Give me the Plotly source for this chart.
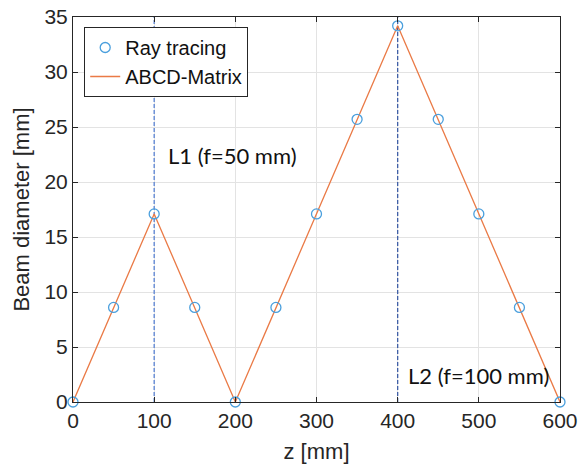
import plotly.graph_objects as go

# Beam diameter along the optical axis
z_ray = [0, 50, 100, 150, 200, 250, 300, 350, 400, 450, 500, 550, 600]
d_ray = [0, 8.6, 17.1, 8.6, 0, 8.6, 17.1, 25.7, 34.2, 25.7, 17.1, 8.6, 0]

z_abcd = [0, 100, 200, 400, 600]
d_abcd = [0, 17.1, 0, 34.2, 0]

lens_z = [100, 400]
lens_colors = ["#5A83D4", "#3E5EA6"]
lens_labels = ["L1 (f=50 mm)", "L2 (f=100 mm)"]
lens_label_pos = [(115, 22.45), (410, 2.45)]

x_ticks = [0, 100, 200, 300, 400, 500, 600]
y_ticks = [0, 5, 10, 15, 20, 25, 30, 35]

fig = go.Figure()

# lens positions as dashed vertical lines (drawn above the grid)
for z, col in zip(lens_z, lens_colors):
    fig.add_trace(go.Scatter(
        x=[z, z], y=[0, 35], mode="lines", showlegend=False, hoverinfo="skip",
        line=dict(color=col, width=1.3, dash="4px,2px"),
    ))

fig.add_trace(go.Scatter(
    x=z_abcd, y=d_abcd, mode="lines", name="ABCD-Matrix",
    line=dict(color="#EA7A46", width=1.3),
))
fig.add_trace(go.Scatter(
    x=z_ray, y=d_ray, mode="markers", name="Ray tracing", cliponaxis=False,
    marker=dict(symbol="circle-open", size=10, color="#4A9FDD",
                line=dict(width=1.3, color="#4A9FDD")),
))

for txt, (lx, ly) in zip(lens_labels, lens_label_pos):
    fig.add_annotation(x=lx, y=ly, text=txt, showarrow=False,
                       xanchor="left", yanchor="middle",
                       font=dict(family="Lato", size=22, color="#111111"))

axis_common = dict(
    showline=True, linecolor="#262626", linewidth=1, mirror="ticks",
    ticks="inside", ticklen=5, tickcolor="#262626",
    showgrid=True, gridcolor="#E3E3E3", gridwidth=1, zeroline=False,
    automargin=False,
    tickfont=dict(family="Liberation Sans", size=21, color="#262626"),
)

fig.update_layout(
    width=579, height=469,
    margin=dict(l=73, r=19, t=17, b=67),
    paper_bgcolor="white", plot_bgcolor="white",
    xaxis=dict(range=[0, 600], tickvals=x_ticks,
               title=dict(text="z [mm]", standoff=12,
                          font=dict(family="Liberation Sans", size=22, color="#262626")),
               **axis_common),
    yaxis=dict(range=[0, 35], tickvals=y_ticks,
               title=dict(text="Beam diameter [mm]", standoff=8,
                          font=dict(family="Liberation Sans", size=22, color="#262626")),
               **axis_common),
    legend=dict(x=0.023, y=0.974, xanchor="left", yanchor="top",
                traceorder="reversed",
                bgcolor="white", bordercolor="#262626", borderwidth=1,
                font=dict(family="Liberation Sans", size=20, color="#111111"),
                itemwidth=30, tracegroupgap=0),
    showlegend=True,
)

fig.write_html("out.html")
